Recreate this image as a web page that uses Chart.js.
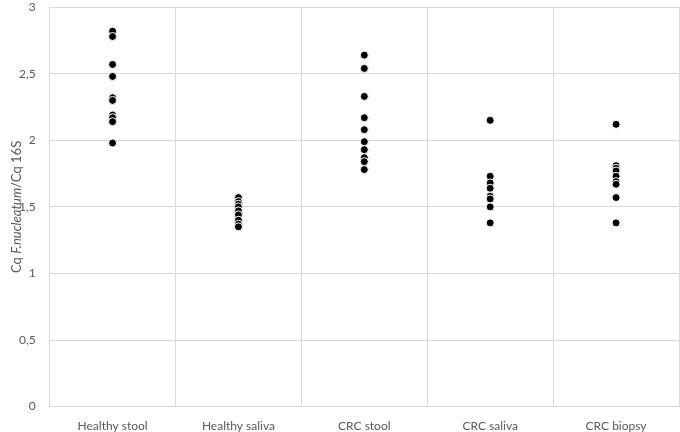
<!DOCTYPE html>
<html>
<head>
<meta charset="utf-8">
<script src="https://cdn.jsdelivr.net/npm/chart.js@4.4.1/dist/chart.umd.min.js"></script>
<style>
  html, body { margin: 0; padding: 0; background: #fff; overflow: hidden; }
  #wrap { width: 684px; height: 446px; margin-top: -14px; }
</style>
</head>
<body>
<div id="wrap"><canvas id="cqChart"></canvas></div>
<script>
// groups on the x axis
const groups = ["Healthy stool", "Healthy saliva", "CRC stool", "CRC saliva", "CRC biopsy"];

// Cq ratio per sample
const healthyStool = [2.82, 2.78, 2.57, 2.48, 2.32, 2.30, 2.19, 2.17, 2.14, 1.98];
const healthySaliva = [1.57, 1.54, 1.52, 1.50, 1.47, 1.44, 1.40, 1.37, 1.35];
const crcStool = [2.64, 2.54, 2.33, 2.17, 2.08, 1.99, 1.93, 1.87, 1.84, 1.78];
const crcSaliva = [2.15, 1.73, 1.68, 1.64, 1.58, 1.56, 1.50, 1.38];
const crcBiopsy = [2.12, 1.81, 1.79, 1.77, 1.73, 1.69, 1.67, 1.57, 1.38];

const yTickLabels = ["0", "0,5", "1", "1,5", "2", "2,5", "3"];

const allValues = [healthyStool, healthySaliva, crcStool, crcSaliva, crcBiopsy];

// turn the lists into {x, y} points
const points = [];
allValues.forEach((vals, i) => {
    vals.forEach(v => points.push({ x: groups[i], y: v }));
});

// y axis title has an italic part, so draw it by hand
const yTitle = {
    id: "yTitle",
    afterDraw(chart) {
        const ctx = chart.ctx;
        const area = chart.chartArea;
        const parts = [
            { t: "Cq ", f: "13px Lato, sans-serif" },
            { t: "F.nucleatum", f: "italic 13px Lato, sans-serif" },
            { t: "/Cq 16S", f: "13px Lato, sans-serif" },
        ];
        let total = 0;
        parts.forEach(p => { ctx.font = p.f; total += ctx.measureText(p.t).width; });
        ctx.save();
        ctx.translate(17, (area.top + area.bottom) / 2);
        ctx.rotate(-Math.PI / 2);
        ctx.fillStyle = "#595959";
        ctx.textBaseline = "middle";
        let x = -total / 2;
        parts.forEach(p => {
            ctx.font = p.f;
            ctx.fillText(p.t, x, 0);
            x += ctx.measureText(p.t).width;
        });
        ctx.restore();
    }
};

const ctx = document.getElementById("cqChart").getContext("2d");
new Chart(ctx, {
    type: "scatter",
    data: {
        datasets: [
            {
                data: points,
                backgroundColor: "#000000",
                borderColor: "#ffffff",
                borderWidth: 1,
                pointRadius: 4,
            },
        ],
    },
    options: {
        responsive: true,
        maintainAspectRatio: false,
        animation: false,
        layout: { padding: { left: 5, right: 0, top: 0, bottom: -13 } },
        plugins: {
            legend: { display: false },
            tooltip: { enabled: false },
        },
        scales: {
            x: {
                type: "category",
                labels: groups,
                offset: true,
                grid: { offset: true, color: "#d9d9d9", lineWidth: 1, drawTicks: false },
                border: { display: false },
                ticks: { color: "#595959", font: { family: "Lato", size: 12 }, padding: 12, maxRotation: 0 },
            },
            y: {
                min: 0,
                max: 3,
                grid: { color: "#d9d9d9", lineWidth: 1, drawTicks: false },
                border: { display: false },
                ticks: {
                    stepSize: 0.5,
                    color: "#595959",
                    font: { family: "Lato", size: 12 },
                    padding: 14,
                    callback: (v, i) => yTickLabels[i],
                },
            },
        },
    },
    plugins: [yTitle],
});
</script>
</body>
</html>
